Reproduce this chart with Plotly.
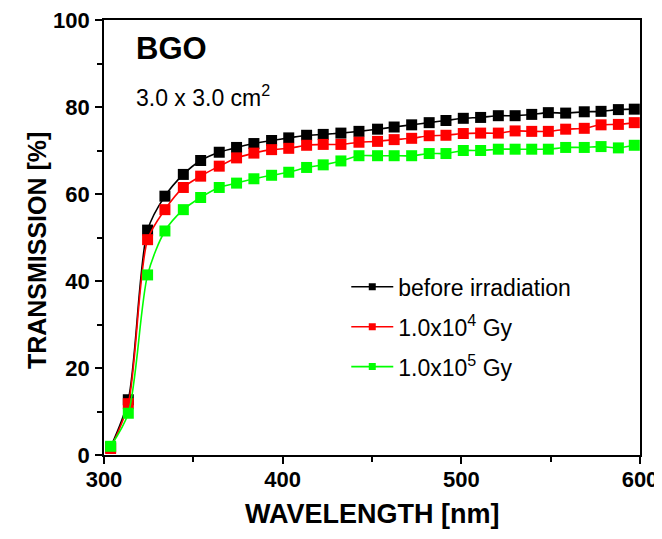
import plotly.graph_objects as go

wavelength = [303.7, 313.6, 324.4, 334.1, 344.4, 354.1, 364.5, 374.2, 383.9, 393.8,
              403.4, 413.4, 422.7, 432.6, 442.7, 453.1, 462.4, 472.2, 482.0, 491.4,
              501.1, 510.8, 520.7, 530.1, 539.4, 548.7, 558.4, 568.8, 578.2, 587.9, 596.8]
before = [1.8, 12.7, 51.7, 59.5, 64.5, 67.7, 69.6, 70.7, 71.6, 72.3,
          72.9, 73.5, 73.7, 74.0, 74.4, 74.9, 75.4, 75.9, 76.4, 76.9,
          77.4, 77.6, 78.0, 78.0, 78.3, 78.7, 78.6, 78.9, 79.0, 79.4, 79.5]
dose_1e4 = [1.5, 11.8, 49.5, 56.4, 61.5, 64.1, 66.4, 68.3, 69.4, 70.2,
            70.5, 71.2, 71.4, 71.4, 71.9, 72.1, 72.5, 72.8, 73.4, 73.5,
            73.9, 74.0, 74.0, 74.5, 74.4, 74.4, 74.9, 75.1, 75.9, 76.0, 76.4]
dose_1e5 = [2.0, 9.6, 41.4, 51.5, 56.4, 59.2, 61.5, 62.5, 63.5, 64.3,
            65.0, 66.1, 66.7, 67.6, 68.8, 68.8, 68.8, 68.8, 69.3, 69.3,
            70.0, 70.0, 70.3, 70.3, 70.3, 70.3, 70.7, 70.7, 70.9, 70.6, 71.2]

series_names = ["before irradiation", "1.0x10<sup>4</sup> Gy", "1.0x10<sup>5</sup> Gy"]
series_values = [before, dose_1e4, dose_1e5]
series_colors = ["#000000", "#ff0000", "#00ff00"]
x_ticks = [300, 400, 500, 600]
y_ticks = [0, 20, 40, 60, 80, 100]

FONT = "Liberation Sans, Arial, sans-serif"

fig = go.Figure()
for name, vals, col in zip(series_names, series_values, series_colors):
    fig.add_trace(go.Scatter(
        x=wavelength, y=vals, mode="lines+markers", name=name,
        line=dict(color=col, width=1.6, shape="spline", smoothing=0.8),
        marker=dict(symbol="square", size=11, color=col),
        showlegend=False,
    ))
for i, (name, col) in enumerate(zip(series_names, series_colors)):
    fig.add_trace(go.Scatter(
        x=[None], y=[None], mode="lines+markers", name=name,
        line=dict(color=col, width=1.6),
        marker=dict(symbol="square", size=7, color=col),
        legendgroup=f"g{i}",
    ))

fig.update_layout(
    width=654, height=523,
    margin=dict(l=96, r=22, t=12, b=76, autoexpand=False),
    paper_bgcolor="white", plot_bgcolor="white",
    font=dict(family=FONT, color="black"),
    showlegend=True,
    legend=dict(
        x=0.452, y=0.436, xanchor="left", yanchor="top",
        font=dict(family=FONT, size=23, color="black"),
        bgcolor="rgba(0,0,0,0)", traceorder="grouped", tracegroupgap=7,
        itemwidth=42,
    ),
    xaxis=dict(
        range=[300, 600], tickmode="array", tickvals=x_ticks,
        ticks="outside", ticklen=7, tickwidth=1.5, tickcolor="black",
        minor=dict(tickvals=[350, 450, 550], ticks="outside", ticklen=5, tickwidth=1.5, tickcolor="black"),
        showline=True, linecolor="black", linewidth=1.8, mirror=True,
        showgrid=False, zeroline=False, automargin=False,
        tickfont=dict(family=FONT, size=22, weight="bold"),
        ticklabelstandoff=-3, ticklabeloverflow="allow",
    ),
    yaxis=dict(
        range=[0, 100], tickmode="array", tickvals=y_ticks,
        ticks="outside", ticklen=7, tickwidth=1.5, tickcolor="black",
        minor=dict(tickvals=[10, 30, 50, 70, 90], ticks="outside", ticklen=5, tickwidth=1.5, tickcolor="black"),
        showline=True, linecolor="black", linewidth=1.8, mirror=True,
        showgrid=False, zeroline=False, automargin=False,
        tickfont=dict(family=FONT, size=22, weight="bold"),
        ticklabelstandoff=1, ticklabeloverflow="allow",
    ),
    annotations=[
        dict(text="<b>BGO</b>", x=0.056, y=0.934, xref="paper", yref="paper",
             xanchor="left", yanchor="middle", showarrow=False,
             font=dict(family=FONT, size=31, color="black")),
        dict(text="3.0 x 3.0 cm<sup>2</sup>", x=0.056, y=0.826, xref="paper", yref="paper",
             xanchor="left", yanchor="middle", showarrow=False,
             font=dict(family=FONT, size=23, color="black")),
        dict(text="<b>WAVELENGTH [nm]</b>", x=0.5, y=-0.1356, xref="paper", yref="paper",
             xanchor="center", yanchor="middle", showarrow=False,
             font=dict(family=FONT, size=27, color="black")),
        dict(text="<b>TRANSMISSION [%]</b>", x=-0.125, y=0.471, xref="paper", yref="paper",
             xanchor="center", yanchor="middle", showarrow=False, textangle=-90,
             font=dict(family=FONT, size=25, color="black")),
    ],
)

fig.write_html("out.html")
